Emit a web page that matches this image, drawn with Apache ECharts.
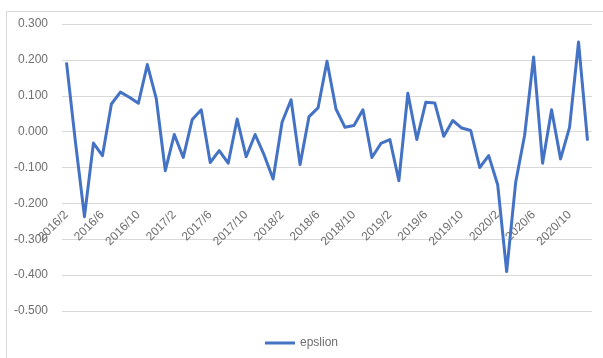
<!DOCTYPE html>
<html>
<head>
<meta charset="utf-8">
<script src="https://cdn.jsdelivr.net/npm/echarts@6/dist/echarts.min.js"></script>
<style>
  html, body { margin: 0; padding: 0; background: #fff; }
  #chart { width: 603px; height: 358px; }
</style>
</head>
<body>
<div id="chart"></div>
<script>
// monthly series, 2016/2 .. 2020/12
var months = [];
for (var y = 2016; y <= 2020; y++) {
    for (var m = (y === 2016 ? 2 : 1); m <= 12; m++) months.push(y + '/' + m);
}
var epslion = [
    0.193, -0.030, -0.237, -0.032, -0.067, 0.077, 0.110, 0.096, 0.079, 0.187, 0.091,
    -0.109, -0.008, -0.072, 0.034, 0.061, -0.086, -0.053, -0.088, 0.035, -0.070, -0.008, -0.065,
    -0.132, 0.026, 0.089, -0.092, 0.042, 0.066, 0.196, 0.063, 0.012, 0.017, 0.061, -0.072,
    -0.033, -0.022, -0.137, 0.107, -0.022, 0.082, 0.080, -0.013, 0.031, 0.010, 0.003, -0.100,
    -0.067, -0.148, -0.390, -0.142, -0.010, 0.208, -0.088, 0.061, -0.076, 0.012, 0.250, -0.025
];
var yMin = -0.5, yMax = 0.3, yStep = 0.1;

var chart = echarts.init(document.getElementById('chart'));
var grey = '#6f6f6f';

chart.setOption({
    animation: false,
    graphic: [{
        type: 'rect', silent: true,
        shape: { x: 6.5, y: 11.5, width: 700, height: 400 },
        style: { fill: 'none', stroke: '#d9d9d9', lineWidth: 1 }
    }],
    grid: { left: 62, right: 11, top: 24, bottom: 47, containLabel: false },
    legend: {
        bottom: 4, left: 'center',
        itemWidth: 30, itemHeight: 3, itemGap: 6,
        icon: 'rect',
        textStyle: { color: grey, fontSize: 12, fontFamily: 'Liberation Sans, Arial' },
        data: ['epslion']
    },
    xAxis: {
        type: 'category',
        data: months,
        boundaryGap: true,
        offset: -102,
        axisLine: { show: false },
        axisTick: { show: false },
        axisLabel: {
            interval: 3,
            rotate: 45,
            margin: 4,
            color: grey,
            fontSize: 12,
            fontFamily: 'Liberation Sans, Arial'
        },
        splitLine: { show: false }
    },
    yAxis: {
        type: 'value',
        min: yMin, max: yMax, interval: yStep,
        axisLine: { show: false },
        axisTick: { show: false },
        axisLabel: {
            margin: 14,
            color: grey,
            fontSize: 12,
            fontFamily: 'Liberation Sans, Arial',
            formatter: function (v) { return v.toFixed(3); }
        },
        splitLine: { lineStyle: { color: '#d9d9d9', width: 1 } }
    },
    series: [{
        name: 'epslion',
        type: 'line',
        data: epslion,
        showSymbol: false,
        symbol: 'none',
        lineStyle: { color: '#4472c4', width: 3, join: 'round' },
        itemStyle: { color: '#4472c4' }
    }]
});
</script>
</body>
</html>
